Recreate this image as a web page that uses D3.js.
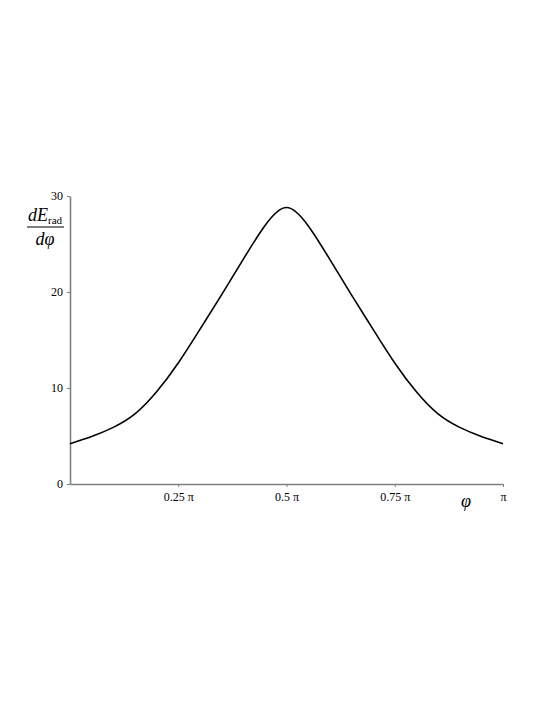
<!DOCTYPE html>
<html>
<head>
<meta charset="utf-8">
<script src="https://cdn.jsdelivr.net/npm/d3@7"></script>
<style>
  body { margin: 0; background: #fff; }
  text { font-family: "Liberation Serif", "Times New Roman", serif; }
</style>
</head>
<body>
<div id="viz"></div>
<script>
// phi in units of pi, dE_rad/dphi values
var phiValues = [0, 0.05, 0.1, 0.15, 0.2, 0.25, 0.3, 0.35, 0.4, 0.45, 0.5,
                 0.55, 0.6, 0.65, 0.7, 0.75, 0.8, 0.85, 0.9, 0.95, 1];
var energyValues = [4.2, 4.95, 5.9, 7.3, 9.6, 12.6, 16.1, 19.7, 23.4, 26.9, 28.8,
                    26.9, 23.4, 19.7, 16.1, 12.6, 9.6, 7.3, 5.9, 4.95, 4.2];
var yTicks = [0, 10, 20, 30];
var xTicks = [0.25, 0.5, 0.75, 1];
var xTickLabels = ["0.25 \u03c0", "0.5 \u03c0", "0.75 \u03c0", "\u03c0"];

var margin = { top: 196, left: 70 },
    width = 433,
    height = 288;

var svg = d3.select("#viz").append("svg")
    .attr("width", 545)
    .attr("height", 705);

var x = d3.scaleLinear().domain([0, 1]).range([0, width]);
var y = d3.scaleLinear().domain([0, 30]).range([height, 0]);

var records = phiValues.map(function(p, i) { return { phi: p, value: energyValues[i] }; });

var g = svg.append("g")
    .attr("transform", "translate(" + margin.left + "," + margin.top + ")");

var axisColor = "#808080";

// x axis
var xAxis = g.append("g")
    .attr("transform", "translate(0," + height + ")")
    .call(d3.axisBottom(x).tickValues(xTicks)
        .tickFormat(function(d, i) { return xTickLabels[i]; })
        .tickSize(3).tickSizeOuter(0).tickPadding(5));

// y axis
var yAxis = g.append("g")
    .call(d3.axisLeft(y).tickValues(yTicks).tickSize(3).tickSizeOuter(0).tickPadding(4));

[xAxis, yAxis].forEach(function(a) {
    a.select(".domain").attr("stroke", axisColor).attr("stroke-width", 1.6);
    a.selectAll(".tick line").attr("stroke", axisColor).attr("stroke-width", 1);
    a.selectAll(".tick text")
        .attr("fill", "#000")
        .style("font-family", "'Liberation Serif', serif")
        .style("font-size", "12px");
});

// curve
var line = d3.line()
    .x(function(d) { return x(d.phi); })
    .y(function(d) { return y(d.value); })
    .curve(d3.curveNatural);

g.append("path")
    .datum(records)
    .attr("fill", "none")
    .attr("stroke", "#000")
    .attr("stroke-width", 1.6)
    .attr("d", line);

// y label as a fraction dE_rad / dphi
var lab = svg.append("g").attr("transform", "translate(45,0)");
var num = lab.append("text")
    .attr("x", 0)
    .attr("y", 221)
    .attr("text-anchor", "middle")
    .style("font-size", "18px");
num.append("tspan").style("font-style", "italic").text("dE");
num.append("tspan").style("font-size", "11px").attr("dy", 3).text("rad");
lab.append("line")
    .attr("x1", -18).attr("x2", 19)
    .attr("y1", 227).attr("y2", 227)
    .attr("stroke", "#000").attr("stroke-width", 1);
lab.append("text")
    .attr("x", 0)
    .attr("y", 245)
    .attr("text-anchor", "middle")
    .style("font-size", "18px")
    .style("font-style", "italic")
    .text("d\u03c6");

// x label
svg.append("text")
    .attr("x", 466)
    .attr("y", 507)
    .attr("text-anchor", "middle")
    .style("font-size", "18px")
    .style("font-style", "italic")
    .text("\u03c6");
</script>
</body>
</html>
